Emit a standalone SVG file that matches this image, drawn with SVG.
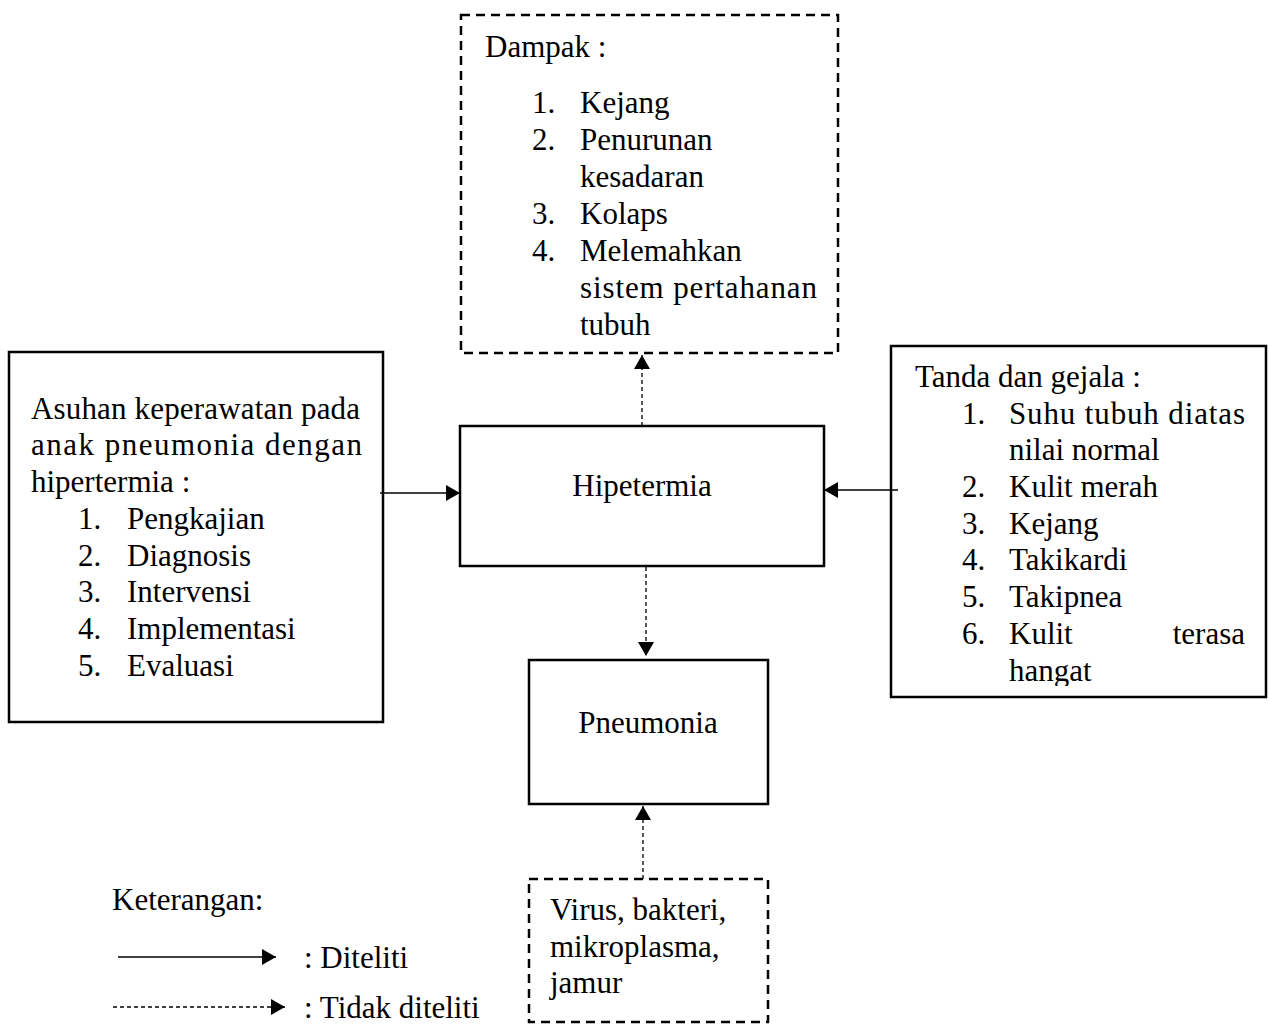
<svg xmlns="http://www.w3.org/2000/svg" width="1269" height="1026" viewBox="0 0 1269 1026">
<style>
  text { font-family: "Liberation Serif", "Times New Roman", serif; font-size: 31px; fill: #000; }
  .box { fill: #fff; stroke: #000; stroke-width: 2.5; }
  .dbox { fill: #fff; stroke: #000; stroke-width: 2.5; stroke-dasharray: 9 6; }
  .solid { stroke: #000; stroke-width: 1.3; fill: none; }
  .dash { stroke: #000; stroke-width: 1.3; fill: none; stroke-dasharray: 4 3; }
  .mid { text-anchor: middle; }
</style>
<defs>
  <marker id="ah" markerUnits="userSpaceOnUse" markerWidth="15" markerHeight="17" refX="14" refY="8" orient="auto">
    <path d="M0,0 L14,8 L0,16 Z" fill="#000"/>
  </marker>
  <clipPath id="clipR"><rect x="880" y="340" width="389" height="346"/></clipPath>
</defs>
<rect width="1269" height="1026" fill="#fff"/>

<g id="dampak">
  <rect class="dbox" x="461" y="15" width="377" height="338"/>
  <text x="485" y="57">Dampak :</text>
  <text x="532" y="113">1.</text><text x="580" y="113">Kejang</text>
  <text x="532" y="150">2.</text><text x="580" y="150">Penurunan</text>
  <text x="580" y="187">kesadaran</text>
  <text x="532" y="224">3.</text><text x="580" y="224">Kolaps</text>
  <text x="532" y="261">4.</text><text x="580" y="261">Melemahkan</text>
  <text x="580" y="298" textLength="237">sistem pertahanan</text>
  <text x="580" y="335">tubuh</text>
</g>

<g id="asuhan">
  <rect class="box" x="9" y="352" width="374" height="370"/>
  <text x="31" y="419" textLength="329">Asuhan keperawatan pada</text>
  <text x="31" y="455" textLength="331">anak pneumonia dengan</text>
  <text x="31" y="492">hipertermia :</text>
  <text x="78" y="529">1.</text><text x="127" y="529">Pengkajian</text>
  <text x="78" y="566">2.</text><text x="127" y="566">Diagnosis</text>
  <text x="78" y="602">3.</text><text x="127" y="602">Intervensi</text>
  <text x="78" y="639">4.</text><text x="127" y="639">Implementasi</text>
  <text x="78" y="676">5.</text><text x="127" y="676">Evaluasi</text>
</g>

<g id="hipetermia">
  <rect class="box" x="460" y="426" width="364" height="140"/>
  <text class="mid" x="642" y="496">Hipetermia</text>
</g>

<g id="tanda">
  <rect class="box" x="891" y="346" width="375" height="351"/>
  <g clip-path="url(#clipR)">
    <text x="915" y="387">Tanda dan gejala :</text>
    <text x="962" y="424">1.</text><text x="1009" y="424" textLength="236">Suhu tubuh diatas</text>
    <text x="1009" y="460">nilai normal</text>
    <text x="962" y="497">2.</text><text x="1009" y="497">Kulit merah</text>
    <text x="962" y="534">3.</text><text x="1009" y="534">Kejang</text>
    <text x="962" y="570">4.</text><text x="1009" y="570">Takikardi</text>
    <text x="962" y="607">5.</text><text x="1009" y="607">Takipnea</text>
    <text x="962" y="644">6.</text><text x="1009" y="644">Kulit</text><text x="1245" y="644" text-anchor="end">terasa</text>
    <text x="1009" y="681">hangat</text>
  </g>
</g>

<g id="pneumonia">
  <rect class="box" x="529" y="660" width="239" height="144"/>
  <text class="mid" x="648" y="733">Pneumonia</text>
</g>

<g id="penyebab">
  <rect class="dbox" x="529" y="879" width="239" height="143"/>
  <text x="550" y="920">Virus, bakteri,</text>
  <text x="550" y="957">mikroplasma,</text>
  <text x="550" y="993">jamur</text>
</g>

<g id="keterangan">
  <text x="112" y="910">Keterangan:</text>
  <text x="304" y="968">: Diteliti</text>
  <text x="304" y="1018">: Tidak diteliti</text>
</g>

<g id="connectors">
  <path class="solid" d="M380,493 L460,493" marker-end="url(#ah)"/>
  <path class="solid" d="M898,490 L824,490" marker-end="url(#ah)"/>
  <path class="dash" d="M642,426 L642,355" marker-end="url(#ah)"/>
  <path class="dash" d="M646,567 L646,656" marker-end="url(#ah)"/>
  <path class="dash" d="M643,879 L643,806" marker-end="url(#ah)"/>
  <path class="solid" d="M118,957 L276,957" marker-end="url(#ah)"/>
  <path class="dash" d="M113,1007 L285,1007" marker-end="url(#ah)"/>
</g>
</svg>
